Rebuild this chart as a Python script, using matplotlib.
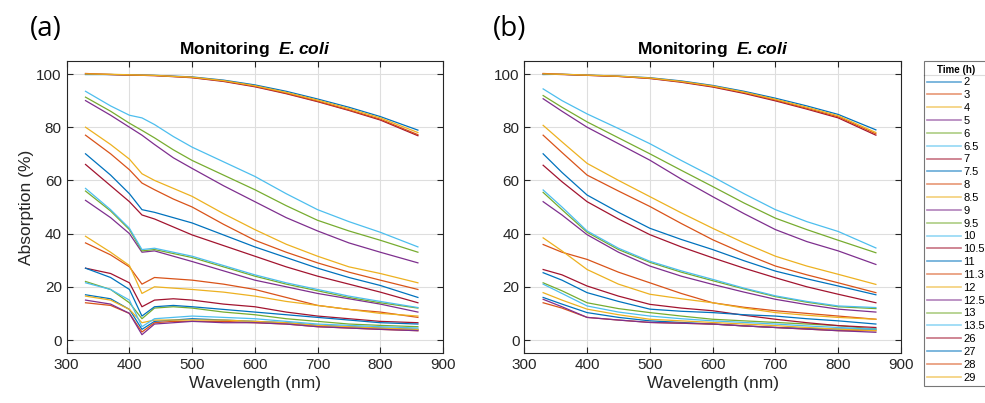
import numpy as np
import matplotlib
matplotlib.use('Agg')
import matplotlib.pyplot as plt
from matplotlib.lines import Line2D

# growth time of each spectrum (h)
times = ['2', '3', '4', '5', '6', '6.5', '7', '7.5', '8', '8.5', '9', '9.5', '10',
         '10.5', '11', '11.3', '12', '12.5', '13', '13.5', '26', '27', '28', '29']

wl_a = [330, 370, 400, 420, 440, 470, 500, 550, 600, 650, 700, 750, 800, 860]
wl_b = [330, 360, 400, 450, 500, 550, 600, 650, 700, 750, 800, 860]

# panel (a): absorption (%), one row per time
absorb_a = [
    [17.0, 15.5, 11.5, 4.0, 7.0, 7.5, 8.0, 7.5, 7.0, 6.5, 5.5, 5.0, 4.5, 4.0],        # 2
    [14.0, 13.0, 10.0, 3.0, 6.5, 7.0, 7.0, 7.0, 6.5, 6.0, 5.0, 4.5, 4.0, 3.5],        # 3
    [16.5, 15.0, 11.5, 6.5, 7.5, 7.5, 7.5, 7.5, 7.0, 6.5, 5.5, 5.0, 4.5, 4.0],        # 4
    [15.0, 13.5, 10.0, 2.0, 6.0, 6.5, 7.0, 6.5, 6.5, 6.0, 5.0, 4.5, 4.0, 3.5],        # 5
    [22.0, 19.0, 14.0, 8.0, 12.0, 12.5, 12.0, 10.5, 9.5, 8.0, 7.0, 6.0, 5.5, 5.0],    # 6
    [21.5, 19.0, 15.0, 5.0, 8.0, 8.5, 9.0, 8.5, 8.0, 7.0, 6.0, 5.5, 5.0, 4.5],        # 6.5
    [27.0, 25.0, 21.5, 12.5, 15.0, 15.5, 15.0, 13.5, 12.5, 10.5, 9.0, 8.0, 7.0, 6.5], # 7
    [27.0, 23.5, 19.0, 9.0, 12.5, 13.0, 12.5, 11.5, 10.5, 9.5, 8.5, 7.5, 6.5, 6.0],   # 7.5
    [36.5, 32.0, 27.5, 21.0, 23.5, 23.0, 22.5, 21.0, 19.0, 16.0, 13.0, 11.5, 10.5, 8.5],  # 8
    [39.0, 33.0, 28.0, 17.5, 20.0, 19.5, 19.0, 18.0, 16.5, 14.5, 13.0, 11.5, 10.0, 9.0],  # 8.5
    [52.5, 46.0, 40.0, 33.0, 33.5, 31.5, 29.5, 26.0, 22.5, 20.0, 17.5, 15.5, 13.5, 10.5], # 9
    [56.0, 48.5, 41.5, 33.5, 34.0, 32.5, 31.0, 27.5, 24.0, 21.0, 18.5, 16.0, 14.0, 12.0], # 9.5
    [57.0, 49.0, 42.0, 34.0, 34.5, 33.0, 31.5, 28.0, 24.5, 21.5, 19.0, 16.5, 14.5, 12.2], # 10
    [66.0, 58.0, 52.0, 47.0, 45.5, 42.5, 39.5, 35.5, 31.5, 27.5, 24.0, 21.0, 18.0, 14.0], # 10.5
    [70.0, 62.0, 55.0, 49.0, 48.0, 46.0, 44.0, 39.5, 35.0, 31.0, 27.0, 23.5, 20.5, 16.0], # 11
    [77.0, 70.0, 64.0, 59.0, 56.5, 53.0, 50.0, 43.5, 37.5, 33.0, 29.0, 25.5, 22.5, 19.0], # 11.3
    [80.0, 73.5, 68.0, 62.5, 60.0, 57.0, 54.0, 47.5, 41.5, 36.0, 31.5, 27.5, 25.0, 21.5], # 12
    [90.0, 84.5, 80.0, 77.0, 73.5, 68.5, 64.5, 58.0, 52.0, 46.0, 41.0, 36.5, 33.0, 29.0], # 12.5
    [91.3, 86.0, 81.5, 78.8, 76.0, 71.5, 67.5, 62.0, 56.5, 50.5, 45.0, 41.0, 37.5, 33.0], # 13
    [93.5, 88.0, 84.5, 83.5, 81.0, 76.5, 72.5, 67.0, 61.5, 55.0, 49.0, 44.5, 40.5, 35.0], # 13.5
    [100.0, 99.8, 99.6, 99.5, 99.4, 99.0, 98.6, 97.2, 95.2, 92.6, 89.6, 86.3, 82.7, 76.8],  # 26
    [99.8, 99.8, 99.7, 99.6, 99.5, 99.2, 98.9, 97.7, 95.9, 93.5, 90.6, 87.5, 84.0, 78.9],   # 27
    [100.2, 99.8, 99.6, 99.5, 99.4, 99.1, 98.7, 97.4, 95.4, 92.8, 89.8, 86.5, 83.0, 77.2],  # 28
    [100.0, 99.9, 99.7, 99.6, 99.5, 99.1, 98.8, 97.5, 95.6, 93.1, 90.2, 87.0, 83.5, 78.0],  # 29
]

# panel (b): absorption (%), one row per time
absorb_b = [
    [16.0, 13.5, 10.3, 8.5, 7.2, 6.6, 6.0, 5.3, 4.7, 4.4, 4.1, 4.1],        # 2
    [14.0, 12.0, 8.5, 7.5, 6.6, 6.3, 6.0, 5.3, 4.7, 4.1, 3.5, 3.5],         # 3
    [17.8, 15.0, 11.6, 9.5, 7.8, 7.2, 6.6, 6.0, 5.4, 4.7, 4.1, 3.5],        # 4
    [15.3, 12.5, 8.5, 7.5, 6.6, 6.3, 6.0, 5.3, 4.7, 4.1, 3.5, 2.9],         # 5
    [21.5, 18.5, 14.0, 11.8, 10.3, 9.0, 7.8, 7.2, 6.6, 6.0, 5.4, 4.1],      # 6
    [21.0, 17.5, 12.8, 10.5, 9.0, 8.0, 7.2, 6.6, 6.0, 5.3, 4.7, 4.1],       # 6.5
    [26.5, 24.5, 20.3, 16.5, 13.4, 12.0, 11.0, 9.3, 7.8, 6.5, 5.4, 4.7],    # 7
    [25.3, 22.5, 17.8, 14.5, 11.6, 10.8, 10.3, 9.5, 9.0, 8.0, 7.2, 6.0],    # 7.5
    [35.9, 33.0, 30.3, 25.5, 21.5, 17.5, 14.0, 12.3, 11.0, 10.0, 9.0, 7.8], # 8
    [38.4, 33.5, 26.5, 21.0, 17.2, 15.5, 14.0, 12.0, 10.3, 9.3, 8.5, 7.8],  # 8.5
    [52.0, 47.0, 39.6, 33.0, 27.8, 24.0, 20.9, 18.0, 15.3, 13.3, 11.6, 10.5],  # 9
    [55.5, 49.0, 40.5, 34.0, 29.2, 25.5, 22.3, 19.2, 16.3, 14.2, 12.5, 11.8],  # 9.5
    [56.4, 50.0, 41.0, 34.5, 29.6, 26.0, 22.8, 19.5, 16.6, 14.5, 12.8, 12.2],  # 10
    [65.7, 59.5, 52.0, 45.5, 39.6, 35.0, 30.9, 27.0, 23.4, 20.0, 17.2, 14.0],  # 10.5
    [70.0, 63.0, 54.5, 48.0, 42.0, 37.8, 34.0, 29.8, 25.9, 23.0, 20.3, 17.0],  # 11
    [77.0, 70.5, 62.0, 56.0, 50.2, 43.8, 37.7, 32.5, 27.8, 24.5, 21.5, 17.8],  # 11.3
    [80.7, 74.5, 66.4, 60.0, 53.9, 47.8, 42.0, 36.5, 31.5, 27.8, 24.7, 20.9],  # 12
    [90.7, 86.0, 80.0, 73.8, 67.6, 60.5, 53.9, 47.5, 41.5, 37.0, 33.5, 28.4],  # 12.5
    [91.9, 87.5, 82.0, 76.0, 70.0, 63.8, 57.7, 51.5, 45.8, 41.5, 37.5, 32.8],  # 13
    [94.4, 90.0, 85.0, 79.5, 73.8, 67.5, 61.4, 55.0, 49.0, 44.5, 40.8, 34.6],  # 13.5
    [100.0, 99.8, 99.5, 99.1, 98.3, 96.9, 95.1, 92.7, 89.9, 86.8, 83.5, 77.0],  # 26
    [99.8, 99.9, 99.6, 99.2, 98.6, 97.4, 95.7, 93.5, 90.9, 88.0, 84.8, 79.0],   # 27
    [100.2, 99.9, 99.5, 99.1, 98.4, 97.1, 95.3, 93.0, 90.2, 87.1, 83.9, 77.5],  # 28
    [100.0, 99.9, 99.6, 99.2, 98.5, 97.2, 95.5, 93.2, 90.5, 87.5, 84.3, 78.0],  # 29
]

# matlab default colour order
matlab = ['#0072BD', '#D95319', '#EDB120', '#7E2F8E', '#77AC30', '#4DBEEE', '#A2142F']
colors = [matlab[i % 7] for i in range(len(times))]

plt.rcParams['font.family'] = ['Liberation Sans', 'DejaVu Sans']
plt.rcParams['mathtext.fontset'] = 'custom'
plt.rcParams['mathtext.bfit'] = 'Liberation Sans:bold:italic'

fig = plt.figure(figsize=(9.85, 4.03), dpi=100)
W, H = 985, 403

def setup(ax):
    ax.set_xlim(300, 900)
    ax.set_ylim(-5, 105)
    ax.set_xticks([300, 400, 500, 600, 700, 800, 900])
    ax.set_yticks([0, 20, 40, 60, 80, 100])
    ax.grid(True, color='#dedede', linewidth=0.8)
    ax.set_axisbelow(True)
    ax.tick_params(direction='in', top=True, right=True, length=4, width=0.8,
                   labelsize=11, colors='#262626', labelcolor='#262626')
    for s in ax.spines.values():
        s.set_color('#262626')
        s.set_linewidth(0.8)
    ax.set_xlabel('Wavelength (nm)', fontsize=12.5, color='#262626', labelpad=3)
    ax.set_title('Monitoring  $\\mathbfit{E. coli}$', fontsize=12.5, fontweight='bold', pad=5)

ax_a = fig.add_axes([66.7 / W, 1 - 353.3 / H, 376.3 / W, 292.6 / H])
ax_b = fig.add_axes([524.3 / W, 1 - 353.3 / H, 376.7 / W, 292.6 / H])

for ax, wl, data in [(ax_a, wl_a, absorb_a), (ax_b, wl_b, absorb_b)]:
    setup(ax)
    for vals, c in zip(data, colors):
        ax.plot(wl, vals, color=c, linewidth=0.9)

ax_a.set_ylabel('Absorption (%)', fontsize=12.5, color='#262626', labelpad=2)

fig.text(46 / W, 1 - 29 / H, '(a)', fontsize=20, family='Open Sans', ha='center', va='center')
fig.text(510 / W, 1 - 29 / H, '(b)', fontsize=20, family='Open Sans', ha='center', va='center')

# legend
handles = [Line2D([], [], color=c, linewidth=1.2, alpha=0.6) for c in colors]
leg = fig.legend(handles, times, loc='upper left', bbox_to_anchor=(923.5 / W, 1 - 60.7 / H),
                 title='Time (h)', title_fontproperties={'weight': 'bold', 'size': 7},
                 fontsize=8, frameon=True, fancybox=False, edgecolor='#555555',
                 borderaxespad=0, handlelength=3.0, handletextpad=0.25,
                 labelspacing=0.255, borderpad=0.35)
leg.get_frame().set_linewidth(0.8)
fig.add_artist(Line2D([923.5 / W, 1.0], [1 - 75 / H, 1 - 75 / H], color='#555555', linewidth=0.8))

fig.savefig('out.png', dpi=100)
